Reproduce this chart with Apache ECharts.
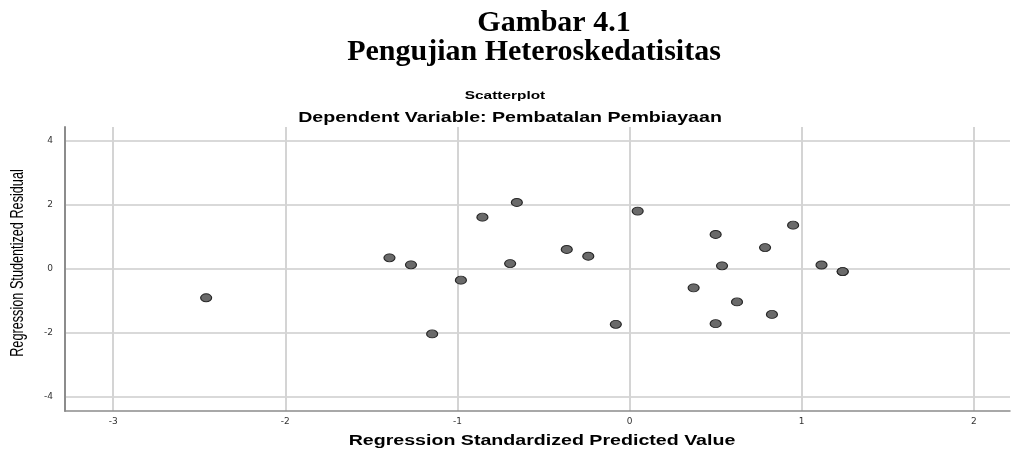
<!DOCTYPE html>
<html>
<head>
<meta charset="utf-8">
<title>Gambar 4.1</title>
<script type="text/javascript" src="https://cdn.jsdelivr.net/npm/echarts@6/dist/echarts.min.js" charset="utf-8"></script>
<style>
	html, body { margin: 0; padding: 0; background: #fff; }
	#main { width: 1012px; height: 450px; }
</style>
</head>
<body>
<div id="main"></div>
<script type="text/javascript">
	var predicted = [-2.46, -1.395, -1.27, -1.147, -0.98, -0.855, -0.694, -0.655, -0.365, -0.24, -0.08, 0.047,
		0.372, 0.50, 0.50, 0.537, 0.624, 0.787, 0.827, 0.95, 1.115, 1.238, 1.238];
	var residual = [-0.90, 0.35, 0.13, -2.03, -0.35, 1.62, 0.17, 2.08, 0.61, 0.40, -1.73, 1.81,
		-0.59, 1.08, -1.71, 0.10, -1.03, 0.67, -1.42, 1.37, 0.125, -0.08, -0.08];
	var xTicks = [-3, -2, -1, 0, 1, 2];
	var yTicks = [-4, -2, 0, 2, 4];

	var points = [];
	for (var i = 0; i < predicted.length; i++) {
		points.push([predicted[i], residual[i]]);
	}

	var sans = 'Liberation Sans, Arial, sans-serif';
	var serif = 'Liberation Serif, Times New Roman, serif';
	// the SPSS picture is stretched sideways, so its texts are too
	var stretch = 1.4;

	var myChart = echarts.init(document.getElementById('main'));
	var option = {
		animation: false,
		backgroundColor: '#fff',
		grid: { left: 65, right: 2, top: 127, bottom: 39 },
		graphic: [
			{ type: 'text', x: 554, y: 23, style: { text: 'Gambar 4.1', font: 'bold 30px ' + serif, fill: '#000', align: 'center', verticalAlign: 'middle' } },
			{ type: 'text', x: 534, y: 52, style: { text: 'Pengujian Heteroskedatisitas', font: 'bold 30px ' + serif, fill: '#000', align: 'center', verticalAlign: 'middle' } },
			{ type: 'text', x: 505, y: 96, scaleX: stretch, style: { text: 'Scatterplot', font: 'bold 11px ' + sans, fill: '#000', align: 'center', verticalAlign: 'middle' } },
			{ type: 'text', x: 510, y: 118, scaleX: stretch, style: { text: 'Dependent Variable: Pembatalan Pembiayaan', font: 'bold 14px ' + sans, fill: '#000', align: 'center', verticalAlign: 'middle' } },
			{ type: 'text', x: 542, y: 441, scaleX: stretch, style: { text: 'Regression Standardized Predicted Value', font: 'bold 14px ' + sans, fill: '#000', align: 'center', verticalAlign: 'middle' } },
			{ type: 'text', x: 18, y: 263, rotation: Math.PI / 2, scaleY: stretch, style: { text: 'Regression Studentized Residual', font: '12.7px ' + sans, fill: '#000', align: 'center', verticalAlign: 'middle' } }
		],
		xAxis: {
			type: 'value',
			min: -3.28,
			max: 2.21,
			axisLine: { onZero: false, lineStyle: { color: '#8c8c8c', width: 1.5 } },
			axisTick: { show: false, customValues: xTicks },
			axisLabel: { customValues: xTicks, color: '#333', fontSize: 9, fontFamily: 'DejaVu Sans, sans-serif', margin: 6 },
			splitLine: { show: true, lineStyle: { color: '#d4d4d4', width: 2 } }
		},
		yAxis: {
			type: 'value',
			min: -4.44,
			max: 4.44,
			axisLine: { show: true, onZero: false, lineStyle: { color: '#8c8c8c', width: 2 } },
			axisTick: { show: false, customValues: yTicks },
			axisLabel: { customValues: yTicks, color: '#333', fontSize: 9, fontFamily: 'DejaVu Sans, sans-serif', margin: 12 },
			splitLine: { show: true, lineStyle: { color: '#d9d9d9', width: 2 } }
		},
		series: [{
			type: 'scatter',
			data: points,
			symbol: 'circle',
			symbolSize: [11, 8],
			itemStyle: { color: '#6a6a6a', borderColor: '#262626', borderWidth: 1, opacity: 1 }
		}]
	};
	myChart.setOption(option);
</script>
</body>
</html>
